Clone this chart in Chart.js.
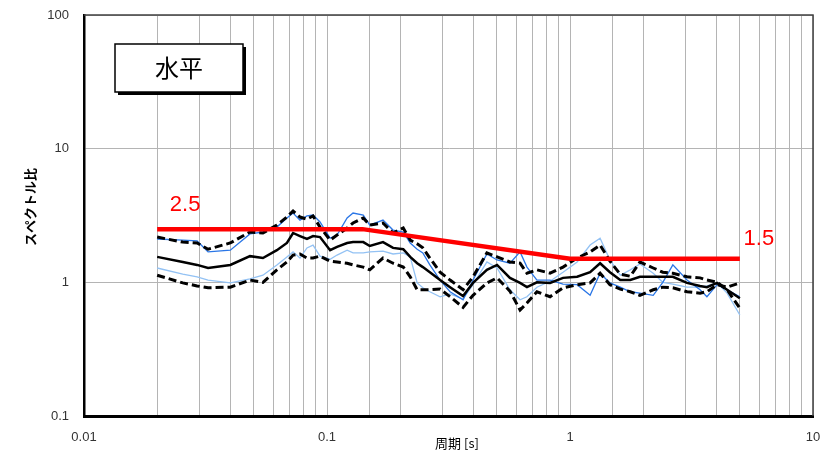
<!doctype html>
<html lang="ja">
  <head>
    <meta charset="utf-8">
    <title>スペクトル比 水平</title>
    <style>
      * { margin: 0; padding: 0; }
      body { background: #fff; }
      .chartBox { width: 826px; height: 462px; }
    </style>
  </head>
  <body>
    <div class="chartBox">
      <canvas id="myChart" width="826" height="462"></canvas>
    </div>
    <script src="https://cdn.jsdelivr.net/npm/chart.js/dist/chart.umd.min.js"></script>
    <script>
    // periods [s]
    const periods = [0.020, 0.0255, 0.0292, 0.0324, 0.040, 0.0482, 0.0545, 0.0622, 0.0684, 0.0725,
      0.0774, 0.0827, 0.0876, 0.0936, 0.103, 0.110, 0.121, 0.128, 0.141, 0.150,
      0.170, 0.187, 0.206, 0.220, 0.235, 0.248, 0.265, 0.292, 0.321, 0.363,
      0.399, 0.455, 0.501, 0.566, 0.623, 0.665, 0.731, 0.828, 0.936, 1.07,
      1.21, 1.33, 1.46, 1.61, 1.77, 1.94, 2.20, 2.41, 2.65, 3.03,
      3.43, 3.66, 4.03, 4.43, 5.0];

    const meanRatio = [1.55, 1.42, 1.35, 1.28, 1.35, 1.57, 1.52, 1.74, 1.97, 2.34,
      2.22, 2.11, 2.22, 2.18, 1.74, 1.84, 1.97, 2.00, 2.00, 1.87,
      2.00, 1.81, 1.77, 1.55, 1.39, 1.30, 1.19, 1.04, 0.92, 0.79,
      0.99, 1.24, 1.35, 1.08, 0.99, 0.92, 1.00, 0.99, 1.08, 1.10,
      1.19, 1.39, 1.19, 1.04, 1.04, 1.10, 1.10, 1.10, 1.10, 0.99,
      0.94, 0.92, 0.99, 0.88, 0.76];

    const plusSigma = [2.18, 2.00, 1.97, 1.77, 1.97, 2.38, 2.34, 2.68, 3.08, 3.41,
      3.08, 2.97, 3.14, 2.59, 2.07, 2.26, 2.55, 2.78, 3.03, 2.68,
      2.78, 2.34, 2.55, 2.07, 1.94, 1.81, 1.52, 1.19, 1.04, 0.88,
      1.10, 1.66, 1.55, 1.42, 1.39, 1.17, 1.24, 1.17, 1.30, 1.52,
      1.69, 1.90, 1.44, 1.15, 1.11, 1.42, 1.28, 1.19, 1.17, 1.10,
      1.08, 1.04, 1.00, 0.88, 0.64];

    const minusSigma = [1.13, 0.99, 0.94, 0.91, 0.92, 1.04, 1.00, 1.24, 1.42, 1.60,
      1.63, 1.52, 1.52, 1.57, 1.44, 1.42, 1.39, 1.35, 1.30, 1.24,
      1.52, 1.39, 1.30, 1.10, 0.88, 0.88, 0.88, 0.89, 0.78, 0.65,
      0.80, 0.99, 1.08, 0.86, 0.62, 0.70, 0.85, 0.78, 0.91, 0.96,
      0.99, 1.17, 0.96, 0.89, 0.85, 0.80, 0.88, 0.92, 0.91, 0.85,
      0.83, 0.85, 0.96, 0.92, 0.99];

    const recordA = [2.11, 2.07, 2.04, 1.69, 1.74, 2.30, 2.38, 2.59, 3.03, 3.30,
      2.92, 3.14, 3.19, 2.83, 2.14, 2.26, 3.03, 3.30, 3.19, 2.68,
      2.92, 2.46, 2.38, 1.97, 1.77, 1.66, 1.35, 1.04, 0.85, 0.74,
      1.04, 1.63, 1.47, 1.39, 1.69, 1.30, 1.04, 1.04, 0.97, 0.96,
      0.80, 1.17, 0.99, 0.92, 0.85, 0.83, 0.80, 1.00, 1.35, 1.04,
      0.88, 0.78, 0.96, 0.88, 0.78];

    const recordB = [1.28, 1.15, 1.10, 1.04, 0.99, 1.06, 1.13, 1.35, 1.55, 1.69,
      1.52, 1.81, 1.90, 1.57, 1.49, 1.60, 1.74, 1.66, 1.66, 1.69,
      1.71, 1.63, 1.66, 1.55, 0.99, 0.91, 0.85, 0.78, 0.82, 0.75,
      0.96, 1.42, 1.28, 0.88, 0.74, 0.78, 0.92, 1.02, 1.19, 1.42,
      1.90, 2.14, 1.47, 1.13, 1.24, 1.37, 1.17, 1.00, 0.97, 0.92,
      0.92, 0.94, 0.99, 0.83, 0.57];

    // design line
    const designPeriods = [0.02, 0.14, 1.0, 5.0];
    const designRatio = [2.5, 2.5, 1.5, 1.5];

    const toXY = (xs, ys) => xs.map((x, i) => ({ x: x, y: ys[i] }));
    const isDecade = v => Math.abs(Math.log10(v) - Math.round(Math.log10(v))) < 1e-6;

    const jpFont = '"Noto Sans CJK JP", sans-serif';
    const numFont = '"Liberation Sans", Arial, sans-serif';

    const line = (label, xs, ys, color, width, dash) => ({
      label, data: toXY(xs, ys), borderColor: color, borderWidth: width,
      borderDash: dash || [], showLine: true, pointRadius: 0, fill: false, tension: 0
    });

    // setup
    const data = {
      datasets: [
        line('設計', designPeriods, designRatio, '#ff0000', 4.5),
        line('平均', periods, meanRatio, '#000000', 2.5),
        line('平均+σ', periods, plusSigma, '#000000', 3, [8, 4]),
        line('平均-σ', periods, minusSigma, '#000000', 3, [8, 4]),
        line('記録1', periods, recordA, '#2a76e6', 1.3),
        line('記録2', periods, recordB, '#93c2f4', 1.3)
      ]
    };

    const overlay = {
      id: 'overlay',
      beforeDatasetsDraw(chart) {
        const { ctx, chartArea: a } = chart;
        ctx.save();
        ctx.strokeStyle = '#404040';
        ctx.lineWidth = 1.5;
        ctx.beginPath();
        ctx.moveTo(a.left, a.top);
        ctx.lineTo(a.right, a.top);
        ctx.lineTo(a.right, a.bottom);
        ctx.stroke();
        ctx.restore();
      },
      afterDraw(chart) {
        const { ctx, scales } = chart;
        ctx.save();
        // title box with shadow
        ctx.fillStyle = '#000';
        ctx.fillRect(118, 47, 128, 48);
        ctx.fillStyle = '#fff';
        ctx.fillRect(115, 44, 128, 48);
        ctx.strokeStyle = '#000';
        ctx.lineWidth = 1.5;
        ctx.strokeRect(115, 44, 128, 48);
        ctx.fillStyle = '#000';
        ctx.font = '24px ' + jpFont;
        ctx.textAlign = 'center';
        ctx.textBaseline = 'middle';
        ctx.fillText('水平', 179, 68);

        // design values
        ctx.fillStyle = '#ff0000';
        ctx.font = '22px ' + numFont;
        ctx.fillText('2.5', scales.x.getPixelForValue(0.02) + 28, 205);
        ctx.fillText('1.5', scales.x.getPixelForValue(5.0) + 19, 239);

        // axis titles
        ctx.fillStyle = '#000';
        ctx.font = '13px ' + jpFont;
        ctx.fillText('周期 [s]', 457, 443);
        ctx.translate(30, 207);
        ctx.rotate(-Math.PI / 2);
        ctx.font = 'bold 13px ' + jpFont;
        ctx.fillText('スペクトル比', 0, 0);
        ctx.restore();
      }
    };

    // config
    const config = {
      type: 'scatter',
      data,
      options: {
        responsive: false,
        animation: false,
        layout: { padding: { top: 15, right: 13, left: 0, bottom: 0 } },
        plugins: { legend: { display: false }, tooltip: { enabled: false } },
        scales: {
          x: {
            type: 'logarithmic',
            min: 0.01,
            max: 10,
            afterFit: s => { s.height = 46; s.paddingLeft = 0; s.paddingRight = 0; },
            grid: { color: '#b4b4b4', lineWidth: 1, drawTicks: false },
            border: { color: '#000', width: 3 },
            ticks: {
              autoSkip: false,
              maxRotation: 0,
              padding: 14,
              color: '#333',
              font: { family: numFont, size: 13 },
              callback: v => isDecade(v) ? String(v) : ''
            }
          },
          y: {
            type: 'logarithmic',
            min: 0.1,
            max: 100,
            afterFit: s => { s.width = 84; s.paddingTop = 0; s.paddingBottom = 0; },
            grid: {
              drawTicks: false,
              lineWidth: 1,
              color: c => (c.tick && isDecade(c.tick.value)) ? '#b4b4b4' : 'rgba(0,0,0,0)'
            },
            border: { color: '#000', width: 2.5 },
            ticks: {
              autoSkip: false,
              padding: 15,
              color: '#333',
              font: { family: numFont, size: 13 },
              callback: v => isDecade(v) ? String(v) : ''
            }
          }
        }
      },
      plugins: [overlay]
    };

    const myChart = new Chart(document.getElementById('myChart'), config);
    </script>
  </body>
</html>
